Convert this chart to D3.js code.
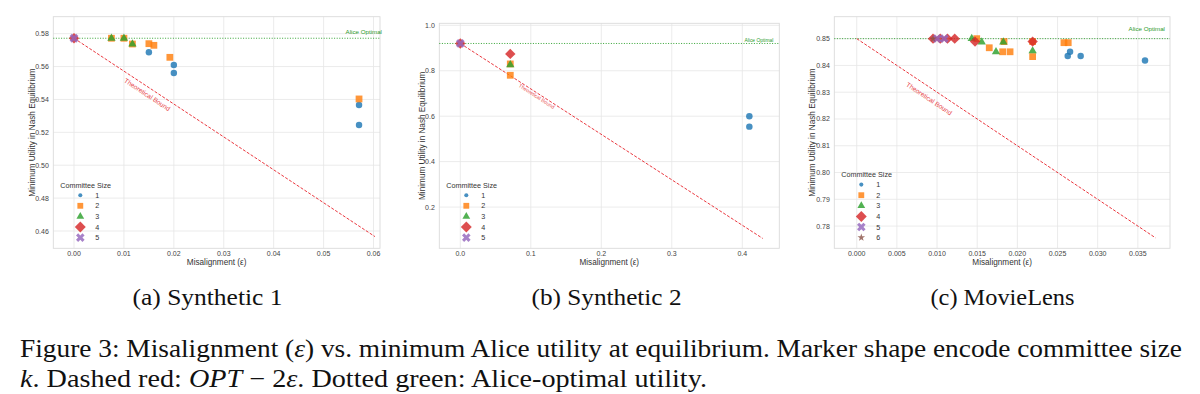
<!DOCTYPE html>
<html lang="en">
<head>
<meta charset="UTF-8">
<title>Misalignment vs minimum utility</title>
<style>
    body { margin: 0; background: #ffffff; }
    svg { display: block; }
    .tick-label { font-family: 'Liberation Sans', Arial, sans-serif; font-size: 7px; fill: #444; }
    .axis-label { font-family: 'Liberation Sans', Arial, sans-serif; font-size: 8.2px; fill: #333; }
    .legend-text { font-family: 'Liberation Sans', Arial, sans-serif; font-size: 7.2px; fill: #333; }
    .caption { font-family: 'Liberation Serif', 'Times New Roman', serif; fill: #111; }
</style>
</head>
<body>
<div id="chart"></div>
<script src="https://d3js.org/d3.v7.min.js"></script>
<script>
// ---- data: (a) Synthetic 1 ----
const syn1K    = [1, 1, 1, 1, 1, 2, 2, 2, 2, 2, 2, 2, 3, 3, 3, 4, 5];
const syn1Eps  = [0.0150, 0.0200, 0.0200, 0.0571, 0.0571, 0.0075, 0.0100, 0.0117, 0.0150, 0.0160, 0.0192, 0.0571, 0.0075, 0.0100, 0.0117, 0, 0];
const syn1Util = [0.5687, 0.5610, 0.5561, 0.5366, 0.5245, 0.5772, 0.5772, 0.5737, 0.5739, 0.5729, 0.5656, 0.5403, 0.5772, 0.5772, 0.5737, 0.5772, 0.5772];

// ---- data: (b) Synthetic 2 ----
const syn2K    = [1, 1, 2, 2, 3, 4, 4, 5];
const syn2Eps  = [0.410, 0.410, 0.0709, 0.0709, 0.0709, 0, 0.0709, 0];
const syn2Util = [0.600, 0.554, 0.830, 0.780, 0.826, 0.920, 0.874, 0.920];

// ---- data: (c) MovieLens ----
const mlK    = [1, 1, 1, 1,
                2, 2, 2, 2, 2, 2, 2, 2, 2,
                3, 3, 3, 3, 3,
                4, 4, 4, 4, 4, 4,
                5, 5, 6];
const mlEps  = [0.02627, 0.02656, 0.02788, 0.03589,
                0.01494, 0.0165, 0.01817, 0.01909, 0.01834, 0.0219, 0.0219, 0.0258, 0.02633,
                0.01432, 0.01556, 0.01734, 0.01825, 0.0219,
                0.0095, 0.0104, 0.0113, 0.0122, 0.01473, 0.0219,
                0.0100, 0.0109, 0.0095];
const mlUtil = [0.8435, 0.8451, 0.8435, 0.8418,
                0.8500, 0.8466, 0.8451, 0.8451, 0.8489, 0.8489, 0.8433, 0.8485, 0.8485,
                0.8500, 0.8487, 0.8451, 0.8487, 0.8454,
                0.8500, 0.8500, 0.8500, 0.8500, 0.8489, 0.8489,
                0.8500, 0.8500, 0.8500];

// reference lines
const aliceOpt = [0.5772, 0.920, 0.850];
const boundEnd = [0.0603, 0.429, 0.0372];

// axis limits and ticks
const xLimits = [[-0.00415, 0.0613], [-0.0298, 0.4525], [-0.00279, 0.0390]];
const yLimits = [[0.4495, 0.5903], [0.0185, 1.0088], [0.7717, 0.8582]];
const xTicks1 = [0, 0.01, 0.02, 0.03, 0.04, 0.05, 0.06];
const yTicks1 = [0.46, 0.48, 0.50, 0.52, 0.54, 0.56, 0.58];
const xTicks2 = [0, 0.1, 0.2, 0.3, 0.4];
const yTicks2 = [0.2, 0.4, 0.6, 0.8, 1.0];
const xTicks3 = [0, 0.005, 0.010, 0.015, 0.020, 0.025, 0.030, 0.035];
const yTicks3 = [0.78, 0.79, 0.80, 0.81, 0.82, 0.83, 0.84, 0.85];

const subCaptions = ['(a) Synthetic 1', '(b) Synthetic 2', '(c) MovieLens'];
const committeeSizes = [1, 2, 3, 4, 5, 6];

const W = 1200, H = 394;
const colors = d3.schemeCategory10;

const svg = d3.select('#chart').append('svg')
    .attr('width', W)
    .attr('height', H);

// marker shapes, matplotlib style: o s ^ D X *
const shapeFor = {
    1: { type: d3.symbolCircle, rot: 0, size: 33, legSize: 13 },
    2: { type: d3.symbolSquare, rot: 0, size: 46, legSize: 34 },
    3: { type: d3.symbolTriangle, rot: 0, size: 30, legSize: 26 },
    4: { type: d3.symbolSquare, rot: 45, size: 54, legSize: 60 },
    5: { type: d3.symbolCross, rot: 45, size: 48, legSize: 46 },
    6: { type: d3.symbolStar, rot: 0, size: 18, legSize: 18 }
};

function marker(g, k, x, y, big) {
    const s = shapeFor[k];
    g.append('path')
        .attr('d', d3.symbol().type(s.type).size(big ? s.size : s.legSize)())
        .attr('transform', `translate(${x},${y}) rotate(${s.rot})`)
        .attr('fill', colors[k - 1])
        .attr('fill-opacity', 0.82);
}

const panels = [
    { k: syn1K, eps: syn1Eps, util: syn1Util, xt: xTicks1, yt: yTicks1, xf: '.2f', yf: '.2f',
      box: { l: 53.3, r: 380, t: 16.7, b: 248.3 }, yLab: 31.7, nLeg: 5,
      alice: { dx: 2, dy: -4.5, fs: 6.2 }, bound: { off: 6.6, fs: 6.6 } },
    { k: syn2K, eps: syn2Eps, util: syn2Util, xt: xTicks2, yt: yTicks2, xf: '.1f', yf: '.1f',
      box: { l: 439.3, r: 779.3, t: 23.3, b: 248.3 }, yLab: 421.7, nLeg: 5,
      alice: { dx: -6, dy: -1.2, fs: 4.9 }, bound: { off: 2.8, fs: 5.1 } },
    { k: mlK, eps: mlEps, util: mlUtil, xt: xTicks3, yt: yTicks3, xf: '.3f', yf: '.2f',
      box: { l: 834.3, r: 1170, t: 16.7, b: 248.3 }, yLab: 811.7, nLeg: 6,
      alice: { dx: -5, dy: -7.3, fs: 6.2 }, bound: { off: 9.6, fs: 6.6 } }
];

panels.forEach((p, i) => {
    const b = p.box;
    const x = d3.scaleLinear().domain(xLimits[i]).range([b.l, b.r]);
    const y = d3.scaleLinear().domain(yLimits[i]).range([b.b, b.t]);
    const g = svg.append('g');

    // grid
    g.append('g').selectAll('line').data(p.xt).enter().append('line')
        .attr('x1', d => x(d)).attr('x2', d => x(d))
        .attr('y1', b.t).attr('y2', b.b)
        .attr('stroke', '#e6e6e6').attr('stroke-width', 0.8);
    g.append('g').selectAll('line').data(p.yt).enter().append('line')
        .attr('x1', b.l).attr('x2', b.r)
        .attr('y1', d => y(d)).attr('y2', d => y(d))
        .attr('stroke', '#e6e6e6').attr('stroke-width', 0.8);

    // frame
    g.append('rect')
        .attr('x', b.l).attr('y', b.t)
        .attr('width', b.r - b.l).attr('height', b.b - b.t)
        .attr('fill', 'none').attr('stroke', '#dadada').attr('stroke-width', 0.9);

    // tick labels
    const fx = d3.format(p.xf), fy = d3.format(p.yf);
    g.append('g').selectAll('text').data(p.xt).enter().append('text')
        .attr('class', 'tick-label')
        .attr('x', d => x(d)).attr('y', b.b + 7.5)
        .attr('text-anchor', 'middle')
        .text(d => fx(d));
    g.append('g').selectAll('text').data(p.yt).enter().append('text')
        .attr('class', 'tick-label')
        .attr('x', b.l - 4.5).attr('y', d => y(d) + 2.5)
        .attr('text-anchor', 'end')
        .text(d => fy(d));

    // axis labels
    g.append('text').attr('class', 'axis-label')
        .attr('x', (b.l + b.r) / 2).attr('y', 265)
        .attr('text-anchor', 'middle')
        .text('Misalignment (\u03b5)');
    g.append('text').attr('class', 'axis-label')
        .attr('transform', `translate(${p.yLab + 3},${(b.t + b.b) / 2}) rotate(-90)`)
        .attr('text-anchor', 'middle')
        .text('Minimum Utility in Nash Equilibrium');

    // Alice optimal (dotted green)
    const opt = aliceOpt[i];
    g.append('line')
        .attr('x1', b.l).attr('x2', b.r)
        .attr('y1', y(opt)).attr('y2', y(opt))
        .attr('stroke', '#1f9a1f').attr('stroke-width', 0.9)
        .attr('stroke-dasharray', '1,1.6');
    g.append('text')
        .attr('x', b.r + p.alice.dx).attr('y', y(opt) + p.alice.dy)
        .attr('text-anchor', 'end')
        .attr('font-family', "'Liberation Sans', Arial, sans-serif")
        .attr('font-size', p.alice.fs)
        .attr('fill', '#2b9a2b')
        .text('Alice Optimal');

    // theoretical bound OPT - 2 eps (dashed red)
    const e1 = boundEnd[i];
    g.append('line')
        .attr('x1', x(0)).attr('y1', y(opt))
        .attr('x2', x(e1)).attr('y2', y(opt - 2 * e1))
        .attr('stroke', '#e8222a').attr('stroke-width', 0.9)
        .attr('stroke-dasharray', '3,1.6');
    const ang = Math.atan2(y(opt - 2 * e1) - y(opt), x(e1) - x(0));
    const eT = 0.27 * d3.max(p.eps);
    const tx = x(eT) - Math.sin(ang) * p.bound.off;
    const ty = y(opt - 2 * eT) + Math.cos(ang) * p.bound.off;
    g.append('text')
        .attr('transform', `translate(${tx},${ty}) rotate(${ang * 180 / Math.PI})`)
        .attr('text-anchor', 'middle')
        .attr('dominant-baseline', 'central')
        .attr('font-family', "'Liberation Sans', Arial, sans-serif")
        .attr('font-size', p.bound.fs)
        .attr('fill', '#e8474c')
        .text('Theoretical Bound');

    // scatter points, drawn in committee-size order
    const pts = d3.range(p.k.length).map(j => ({ k: p.k[j], e: p.eps[j], u: p.util[j] }));
    const mg = g.append('g');
    pts.forEach(d => marker(mg, d.k, x(d.e), y(d.u), true));

    // legend
    const leg = g.append('g');
    const ks = committeeSizes.slice(0, p.nLeg);
    const step = 10.6;
    const lastY = b.b - 10.7;
    const firstY = lastY - step * (ks.length - 1);
    leg.append('text').attr('class', 'legend-text')
        .attr('x', b.l + 7).attr('y', firstY - 10.2 + 2.5)
        .text('Committee Size');
    ks.forEach((k, j) => {
        const ly = firstY + j * step;
        marker(leg, k, b.l + 27, ly, false);
        leg.append('text').attr('class', 'legend-text')
            .attr('x', b.l + 42).attr('y', ly + 2.5)
            .text(k);
    });
});

// sub-captions
const subX = [207.5, 606.5, 1002.5];
const subW = [150, 150, 144];
subCaptions.forEach((t, i) => {
    svg.append('text').attr('class', 'caption')
        .attr('x', subX[i]).attr('y', 305)
        .attr('text-anchor', 'middle')
        .attr('font-size', 24)
        .attr('textLength', subW[i]).attr('lengthAdjust', 'spacingAndGlyphs')
        .text(t);
});

// figure caption
const cap1 = svg.append('text').attr('class', 'caption')
    .attr('x', 20).attr('y', 357).attr('font-size', 25)
    .attr('textLength', 1162).attr('lengthAdjust', 'spacingAndGlyphs');
cap1.append('tspan').text('Figure 3: Misalignment (');
cap1.append('tspan').attr('font-style', 'italic').text('\u03b5');
cap1.append('tspan').text(') vs. minimum Alice utility at equilibrium. Marker shape encode committee size');

const cap2 = svg.append('text').attr('class', 'caption')
    .attr('x', 20).attr('y', 387).attr('font-size', 25)
    .attr('textLength', 687).attr('lengthAdjust', 'spacingAndGlyphs');
cap2.append('tspan').attr('font-style', 'italic').text('k');
cap2.append('tspan').text('. Dashed red: ');
cap2.append('tspan').attr('font-style', 'italic').text('OPT');
cap2.append('tspan').text(' \u2212 2');
cap2.append('tspan').attr('font-style', 'italic').text('\u03b5');
cap2.append('tspan').text('. Dotted green: Alice-optimal utility.');
</script>
</body>
</html>
